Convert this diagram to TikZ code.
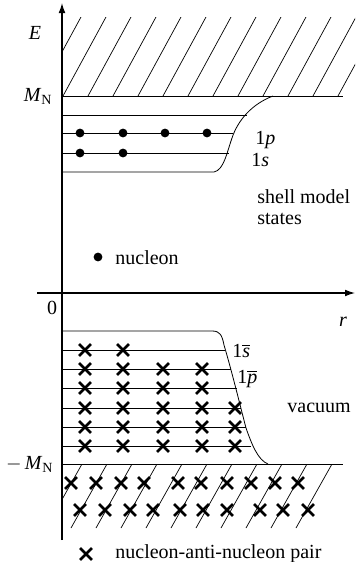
\documentclass[tikz,border=0pt]{standalone}
\usepackage{fontspec}
\setmainfont{Liberation Serif}
\usetikzlibrary{arrows.meta,shapes.misc}

\begin{document}
\begin{tikzpicture}[
    x=0.5pt, y=-0.5pt,
    axis/.style={line width=0.6pt, -{Latex[length=5pt,width=3.4pt]}},
    level/.style={line width=0.4pt},
    hatch/.style={line width=0.35pt},
    nucleon/.style={circle, fill=black, inner sep=0pt, minimum size=4.4pt},
    pair/.style={cross out, draw, line width=1.3pt, inner sep=0pt, minimum size=4.6pt},
    lbl/.style={inner sep=0pt, font=\fontsize{10}{12}\selectfont}
]
\useasboundingbox (0,0) rectangle (355,562);

% axes
\coordinate (ybot) at (62,540);
\coordinate (ytop) at (62,3);
\coordinate (xleft) at (37,293);
\coordinate (xright) at (355,293);
\draw [axis] (ybot) -- (ytop);
\draw [axis] (xleft) -- (xright);

\node (E) [lbl] at (35,33) {\textit{E}};
\node (zero) [lbl] at (52,308) {0};
\node (r) [lbl] at (343,322) {\textit{r}};
\node (mn) [lbl, anchor=east] at (53,96) {\textit{M}\textsubscript{N}};
\node (mmn) [lbl, anchor=east] at (54,464) {$-$\,\textit{M}\textsubscript{N}};

% continuum above M_N
\draw [level] (62,96) -- (343,96);
\begin{scope}
  \clip (62,17) rectangle (355,96);
  \foreach \k in {0,...,12}
    \draw [hatch] (38+25*\k,96) -- ++(43,-79);
\end{scope}

% shell model states
\draw [level] (62,172) -- (214,172) .. controls (224,170) and (227,152) .. (232,138)
  .. controls (238,120) and (252,104) .. (273,96);
\draw [level] (62,115) -- (247,115);
\draw [level] (62,133) -- (233,133);
\draw [level] (62,153) -- (229,153);

\foreach \y/\xs in {133/{80,123,165,207}, 153/{80,123}}
  \foreach \x in \xs
    \node (n-\x-\y) [nucleon] at (\x,\y) {};

\node (lp) [lbl, anchor=west] at (255,140) {1\textit{p}};
\node (ls) [lbl, anchor=west] at (251,160) {1\textit{s}};
\node (shell) [lbl, anchor=west] at (257,197) {shell model};
\node (states) [lbl, anchor=west] at (257,219) {states};

% legend for nucleons
\node (dotkey) [nucleon] at (98,257) {};
\node (dottext) [lbl, anchor=west] at (115,258) {nucleon};

% Dirac sea
\draw [level] (62,331) -- (212,331) .. controls (220,331) and (222,335) .. (224,345)
  .. controls (232,372) and (240,405) .. (246,428)
  .. controls (252,445) and (258,460) .. (268,464);
\foreach \y/\e in {350/225, 369/231, 388/237, 408/241, 427/246, 446/251}
  \draw [level] (62,\y) -- (\e,\y);

\foreach \y/\xs in {350/{85,123}, 369/{85,123,163,202}, 388/{85,123,163,202},
    408/{85,123,163,202,235}, 427/{85,123,163,202,235}, 446/{85,123,163,202,235}}
  \foreach \x in \xs
    \node (p-\x-\y) [pair] at (\x,\y) {};

\node (sbar) [lbl, anchor=west] at (232,351) {1$\overline{\textit{s}}$};
\node (pbar) [lbl, anchor=west] at (237,379) {1$\overline{\textit{p}}$};
\node (vac) [lbl, anchor=west] at (287,408) {vacuum};

% continuum below -M_N
\draw [level] (62,464) -- (343,464);
\begin{scope}
  \clip (62,464) rectangle (355,530);
  \foreach \k in {0,...,10}
    \draw [hatch] (82+25*\k,464) -- ++(-36,64);
\end{scope}

\foreach \y/\xs in {483/{71,96,121,144,178,201,227,251,275,298},
    510/{80,105,130,153,180,203,227,260,283,308}}
  \foreach \x in \xs
    \node (q-\x-\y) [pair] at (\x,\y) {};

% legend for pairs
\node (crosskey) [pair] at (86,554) {};
\node (crosstext) [lbl, anchor=west] at (115,554) {nucleon-anti-nucleon pair};

\end{tikzpicture}
\end{document}
